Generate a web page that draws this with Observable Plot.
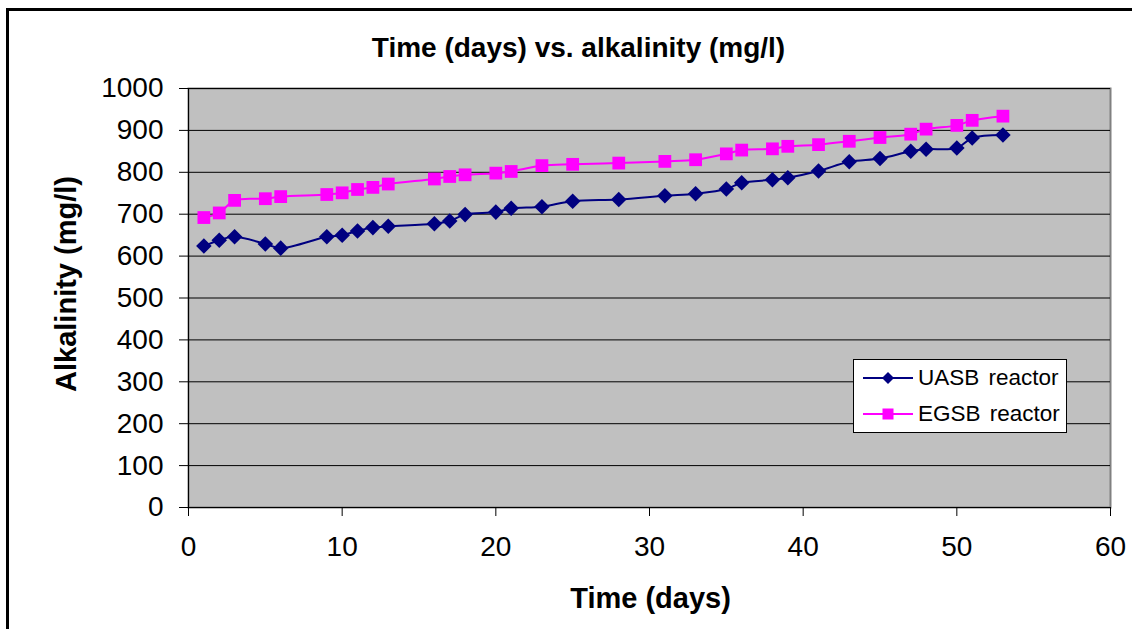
<!DOCTYPE html>
<html>
<head>
<meta charset="utf-8">
<script src="https://cdn.jsdelivr.net/npm/d3@7"></script>
<script src="https://cdn.jsdelivr.net/npm/@observablehq/plot@0.6"></script>
<style>
  html, body { margin: 0; padding: 0; background: #fff; overflow: hidden; width: 1132px; height: 629px; }
  #wrap { position: relative; width: 1132px; height: 629px; font-family: "Liberation Sans", Arial, sans-serif; }
  #border { position: absolute; left: 6px; top: 8px; width: 1200px; height: 700px; border: 3px solid #000; box-sizing: border-box; }
  #chart { position: absolute; left: 0; top: 0; }
  #legend { position: absolute; left: 853px; top: 359px; width: 212px; height: 72px; background: #fff; border: 1px solid #000; }
  .row { position: absolute; left: 0; height: 30px; display: flex; align-items: center; font-size: 22.5px; color: #000; }
  .row svg { margin-left: 8px; margin-right: 4px; }
</style>
</head>
<body>
<div id="wrap">
  <div id="border"></div>
  <div id="chart"></div>
  <div id="legend"></div>
</div>
<script>
const days = [1,2,3,5,6,9,10,11,12,13,16,17,18,20,21,23,25,28,31,33,35,36,38,39,41,43,45,47,48,50,51,53];
const uasb = [624,638,646,629,619,646,650,660,668,671,677,684,699,705,714,718,731,735,744,749,760,775,782,787,803,825,833,850,855,858,882,889];
const egsb = [692,703,733,737,742,747,751,759,764,772,784,790,794,798,802,816,819,822,826,830,844,853,856,862,866,874,883,891,903,912,924,934];
const seriesNames = ["UASB reactor", "EGSB reactor"];
const seriesColors = ["#000080", "#FF00FF"];
const xTicks = [0,10,20,30,40,50,60];
const yTicks = [0,100,200,300,400,500,600,700,800,900,1000];
const titleText = "Time (days) vs. alkalinity (mg/l)";
const xTitle = "Time (days)";
const yTitle = "Alkalinity (mg/l)";

const rows = [];
days.forEach((d, i) => {
  rows.push({day: d, value: uasb[i], series: seriesNames[0]});
  rows.push({day: d, value: egsb[i], series: seriesNames[1]});
});
const uRows = rows.filter(r => r.series === seriesNames[0]);
const eRows = rows.filter(r => r.series === seriesNames[1]);

const font = '"Liberation Sans", Arial, sans-serif';

const chart = Plot.plot({
  width: 1132,
  height: 629,
  marginLeft: 188,
  marginRight: 22,
  marginTop: 88,
  marginBottom: 122,
  style: { fontFamily: font, fontSize: "28px", color: "#000", background: "transparent", overflow: "visible" },
  x: { domain: [0, 60], ticks: xTicks },
  y: { domain: [0, 1000], ticks: yTicks },
  marks: [
    Plot.frame({ fill: "#C0C0C0", stroke: "#808080", strokeWidth: 2 }),
    Plot.ruleY(yTicks.filter(t => t > 0), { stroke: "#000", strokeWidth: 1 }),
    Plot.ruleX([0], { stroke: "#000", strokeWidth: 1 }),
    Plot.ruleY([0], { stroke: "#000", strokeWidth: 1 }),
    Plot.axisX({ ticks: xTicks, tickSize: 9, tickPadding: 20, label: null, stroke: "#000", fontSize: 28, tickFormat: d => String(d) }),
    Plot.axisY({ ticks: yTicks, tickSize: 9, tickPadding: 16, label: null, stroke: "#000", fontSize: 28, tickFormat: d => String(d) }),
    Plot.line(uRows, { x: "day", y: "value", stroke: seriesColors[0], strokeWidth: 2, curve: "catmull-rom" }),
    Plot.line(eRows, { x: "day", y: "value", stroke: seriesColors[1], strokeWidth: 2, curve: "catmull-rom" }),
    Plot.dot(uRows, { x: "day", y: "value", symbol: "diamond2", r: 7, fill: seriesColors[0], stroke: null }),
    Plot.dot(eRows, { x: "day", y: "value", symbol: "square", r: 7.2, fill: seriesColors[1], stroke: null }),
    Plot.text([titleText], { frameAnchor: "top", dx: -71, dy: -40, text: d => d, fontSize: 28, fontWeight: "bold", lineAnchor: "middle", textAnchor: "middle", fill: "#000" }),
    Plot.text([xTitle], { frameAnchor: "bottom", dx: 1, dy: 91, text: d => d, fontSize: 29, fontWeight: "bold", lineAnchor: "middle", textAnchor: "middle", fill: "#000" }),
    Plot.text([yTitle], { frameAnchor: "left", dx: -122, dy: -14, rotate: -90, text: d => d, fontSize: 29, fontWeight: "bold", lineAnchor: "middle", textAnchor: "middle", fill: "#000" })
  ]
});
document.getElementById("chart").appendChild(chart);

// Legend
const legend = document.getElementById("legend");
seriesNames.forEach((name, i) => {
  const row = document.createElement("div");
  row.className = "row";
  row.style.top = (i === 0 ? 3 : 39) + "px";
  const sw = d3.create("svg").attr("width", 52).attr("height", 20);
  sw.append("line").attr("x1", 1).attr("x2", 51).attr("y1", 10).attr("y2", 10)
    .attr("stroke", seriesColors[i]).attr("stroke-width", 2);
  if (i === 0) {
    sw.append("path").attr("d", "M26,4 L32,10 L26,16 L20,10 Z").attr("fill", seriesColors[i]);
  } else {
    sw.append("rect").attr("x", 20.5).attr("y", 4.5).attr("width", 11).attr("height", 11).attr("fill", seriesColors[i]);
  }
  row.appendChild(sw.node());
  const label = document.createElement("span");
  label.textContent = name;
  label.style.wordSpacing = "3px";
  row.appendChild(label);
  legend.appendChild(row);
});
</script>
</body>
</html>
